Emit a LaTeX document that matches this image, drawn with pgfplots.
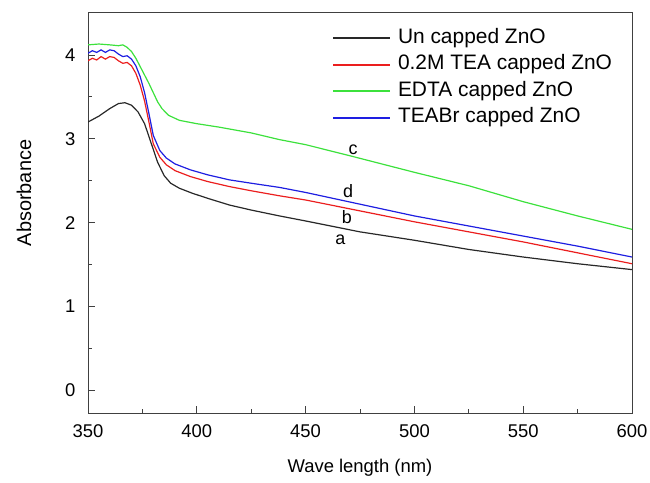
\documentclass[border=0pt]{standalone}
\usepackage{fontspec}
\setmainfont{Liberation Sans}
\usepackage{pgfplots}
\pgfplotsset{compat=1.18}

\definecolor{uncappedcol}{RGB}{40,40,40}
\definecolor{teacol}{RGB}{235,30,30}
\definecolor{edtacol}{RGB}{60,225,60}
\definecolor{teabrcol}{RGB}{30,30,225}

\begin{document}
\begin{tikzpicture}
\useasboundingbox (0,0) rectangle (650bp,483bp);
\begin{axis}[
  at={(88bp,70bp)}, anchor=south west,
  scale only axis,
  width=544bp, height=400bp,
  xmin=350, xmax=600,
  ymin=-0.27, ymax=4.5,
  xtick={350,400,...,600},
  ytick={0,1,2,3,4},
  minor x tick num=1,
  minor y tick num=1,
  tick pos=left,
  tick align=inside,
  major tick length=7bp,
  minor tick length=4bp,
  axis line style={line width=1pt, black!75},
  every tick/.style={line width=0.8pt, black!75},
  /pgf/number format/assume math mode=true,
  ticklabel style={font=\fontsize{18.5}{18.5}\selectfont},
  xticklabel style={yshift=-8bp},
  yticklabel style={xshift=-9bp},
  xlabel={Wave length (nm)},
  ylabel={Absorbance},
  xlabel style={font=\fontsize{18.5}{18.5}\selectfont, yshift=-15bp},
  ylabel style={font=\fontsize{20}{20}\selectfont, yshift=27bp, xshift=20bp},
  % legend samples as short solid bars in the series colour
  legend image code/.code={%
    \fill[#1, draw=none] (0bp,-1bp) rectangle (57bp,1bp);},
  legend cell align=left,
  legend style={
    draw=none, fill=none,
    at={(0.45,0.962)}, anchor=north west,
    inner sep=0pt, row sep=7bp,
    font=\fontsize{21}{21}\selectfont,
    nodes={inner sep=0pt, text height=15bp, text depth=4.5bp},
    /tikz/every odd column/.append style={column sep=8bp},
  },
]
% (a) uncapped ZnO
\addplot[color=uncappedcol, line width=1.2pt] coordinates {
 (350,3.20) (355,3.27) (360,3.36) (364,3.42) (367,3.43) (370,3.40)
 (373,3.32) (376,3.18) (379,2.95) (382,2.72) (385,2.56) (388,2.47)
 (392,2.41) (398,2.35) (405,2.29) (415,2.21) (425,2.15) (438,2.08)
 (450,2.02) (475,1.89) (500,1.79) (525,1.68) (550,1.59) (575,1.51)
 (600,1.44)};
\addlegendentry{Un capped ZnO}
% (b) 0.2M TEA capped ZnO
\addplot[color=teacol, line width=1.2pt] coordinates {
 (350,3.93) (352,3.96) (354,3.94) (356,3.98) (358,3.95) (360,3.98)
 (362,3.97) (364,3.93) (366,3.90) (368,3.91) (370,3.87) (372,3.78)
 (374,3.64) (376,3.45) (378,3.20) (380,2.94) (383,2.78) (386,2.69)
 (390,2.62) (397,2.55) (405,2.49) (415,2.43) (425,2.38) (438,2.32)
 (450,2.27) (475,2.14) (500,2.01) (525,1.89) (550,1.77) (575,1.64)
 (600,1.51)};
\addlegendentry{0.2M TEA capped ZnO}
% (c) EDTA capped ZnO
\addplot[color=edtacol, line width=1.2pt] coordinates {
 (350,4.12) (355,4.13) (360,4.12) (364,4.11) (366,4.12) (368,4.09)
 (370,4.04) (372,3.96) (374,3.86) (376,3.76) (378,3.66) (380,3.55)
 (382,3.44) (384,3.36) (387,3.28) (392,3.22) (400,3.18) (410,3.14)
 (425,3.07) (438,2.99) (450,2.93) (470,2.80) (500,2.60) (525,2.44)
 (550,2.25) (575,2.08) (600,1.92)};
\addlegendentry{EDTA capped ZnO}
% (d) TEABr capped ZnO
\addplot[color=teabrcol, line width=1.2pt] coordinates {
 (350,4.02) (352,4.05) (354,4.03) (356,4.06) (358,4.03) (360,4.06)
 (362,4.05) (364,4.01) (366,3.98) (368,3.99) (370,3.95) (372,3.87)
 (374,3.74) (376,3.55) (378,3.30) (380,3.04) (383,2.86) (386,2.77)
 (390,2.70) (397,2.63) (405,2.57) (415,2.51) (425,2.47) (438,2.42)
 (450,2.36) (475,2.22) (500,2.08) (525,1.96) (550,1.84) (575,1.72)
 (600,1.59)};
\addlegendentry{TEABr capped ZnO}
% curve letters
\node[font=\fontsize{18}{18}\selectfont] at (axis cs:471.8,2.87) {c};
\node[font=\fontsize{18}{18}\selectfont] at (axis cs:469.5,2.38) {d};
\node[font=\fontsize{18}{18}\selectfont] at (axis cs:469,2.07) {b};
\node[font=\fontsize{18}{18}\selectfont] at (axis cs:466,1.80) {a};
\end{axis}
\end{tikzpicture}
\end{document}
